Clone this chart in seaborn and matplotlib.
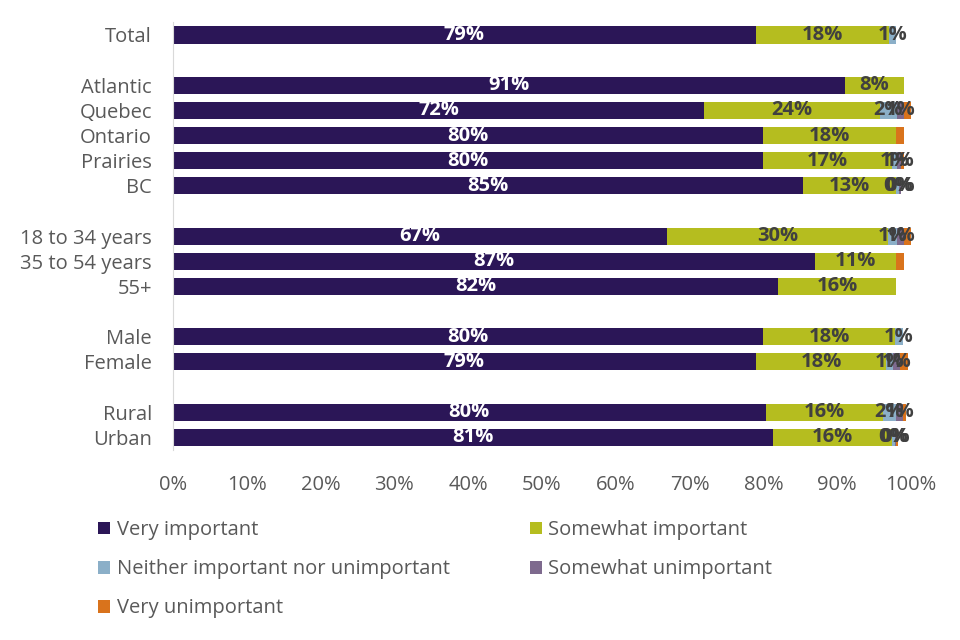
import matplotlib
matplotlib.use('Agg')
import matplotlib.pyplot as plt
import seaborn as sns
import pandas as pd

# categories (blank strings are spacer rows between groups)
categories = ['Total', ' ', 'Atlantic', 'Quebec', 'Ontario', 'Prairies', 'BC', '  ',
              '18 to 34 years', '35 to 54 years', '55+', '   ',
              'Male', 'Female', '    ', 'Rural', 'Urban']
rows = ['Total', 'Atlantic', 'Quebec', 'Ontario', 'Prairies', 'BC',
        '18 to 34 years', '35 to 54 years', '55+', 'Male', 'Female', 'Rural', 'Urban']

very_important = [79.0, 91.0, 72.0, 80.0, 80.0, 85.4, 67.0, 87.0, 82.0, 80.0, 79.0, 80.3, 81.3]
somewhat_important = [18.0, 8.0, 23.8, 18.0, 17.4, 12.6, 29.9, 11.0, 16.0, 17.8, 17.6, 15.9, 16.1]
neither = [1.0, 0, 2.3, 0, 0.7, 0.4, 1.2, 0, 0, 1.1, 1.0, 1.7, 0.4]
somewhat_unimportant = [0, 0, 0.9, 0, 0.6, 0.3, 1.0, 0, 0, 0, 0.9, 1.0, 0.2]
very_unimportant = [0, 0, 1.0, 1.0, 0.3, 0, 0.9, 1.0, 0, 0, 1.1, 0.4, 0.3]

series = ['Very important', 'Somewhat important', 'Neither important nor unimportant',
          'Somewhat unimportant', 'Very unimportant']
colors = ['#2B1657', '#B5BD1F', '#8BAFC8', '#7E6A8E', '#D9731C']

df = pd.DataFrame({'row': rows,
                   series[0]: very_important,
                   series[1]: somewhat_important,
                   series[2]: neither,
                   series[3]: somewhat_unimportant,
                   series[4]: very_unimportant})
cum = df[series].cumsum(axis=1)
cum['row'] = df['row']

sns.set_style('white')
plt.rcParams['font.family'] = ['Open Sans', 'DejaVu Sans']

fig = plt.figure(figsize=(9.6, 6.4), dpi=100)
ax = fig.add_axes([0.180, 0.297, 0.769, 0.668])

# stacked look: draw cumulative totals, largest first
for s, c in reversed(list(zip(series, colors))):
    sns.barplot(data=cum, x=s, y='row', order=categories, color=c, label=s,
                width=0.68, saturation=1, ax=ax, orient='h', linewidth=0)

# segment labels
for i, r in df.iterrows():
    y = categories.index(r['row'])
    left = 0
    for k, s in enumerate(series):
        v = r[s]
        if v > 0 and k < 4:
            ax.text(left + v / 2, y, f'{v:.0f}%', ha='center', va='center',
                    fontsize=14.5, fontweight='bold',
                    color='white' if k == 0 else '#404040')
        left += v

ax.set_xlim(0, 100)
ax.set_ylim(len(categories) - 0.5, -0.5)
ax.set_xticks(range(0, 101, 10))
ax.set_xticklabels([f'{t}%' for t in range(0, 101, 10)])
ax.set_xlabel('')
ax.set_ylabel('')
ax.tick_params(axis='both', length=0, labelsize=14.5, colors='#595959')
ax.tick_params(axis='x', pad=18)
ax.tick_params(axis='y', pad=15)
for sp in ['top', 'right', 'bottom']:
    ax.spines[sp].set_visible(False)
ax.spines['left'].set_color('#D9D9D9')

handles, labels = ax.get_legend_handles_labels()
if ax.get_legend() is not None:
    ax.get_legend().remove()
lookup = dict(zip(labels, handles))
# matplotlib fills legend columns first; order so rows read like the reference
leg_order = [series[0], series[2], series[4], series[1], series[3]]
fig.legend([lookup[l] for l in leg_order], leg_order, loc='upper left',
           bbox_to_anchor=(0.092, 0.203), ncol=2, frameon=False, fontsize=14.5,
           handlelength=0.6, handleheight=0.6, handletextpad=0.3, borderpad=0,
           labelspacing=0.95, columnspacing=4.0, labelcolor='#595959')

fig.savefig('out.png', dpi=100)
